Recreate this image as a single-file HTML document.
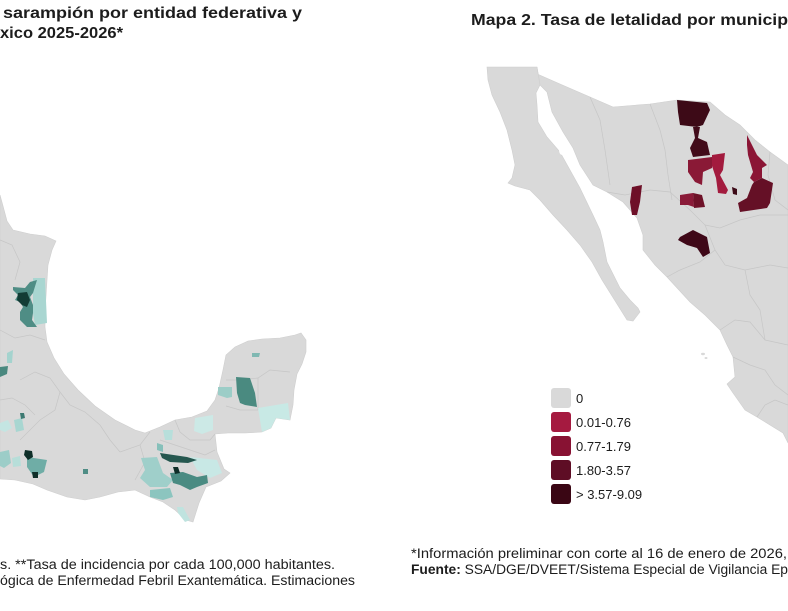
<!DOCTYPE html>
<html><head><meta charset="utf-8"><style>
html,body{margin:0;padding:0;background:#fff;}
svg{display:block;}
text{font-family:"Liberation Sans",Arial,sans-serif;fill:#1c1c1c;}
</style></head><body>
<svg width="788" height="611" viewBox="0 0 788 611" xmlns="http://www.w3.org/2000/svg">
<rect width="788" height="611" fill="#fff"/>

<!-- LEFT TITLE -->
<text x="3" y="18" font-size="16" font-weight="bold" textLength="299" lengthAdjust="spacingAndGlyphs">sarampión por entidad federativa y</text>
<text x="0" y="38" font-size="16" font-weight="bold" textLength="123" lengthAdjust="spacingAndGlyphs">xico 2025-2026*</text>

<!-- LEFT MAP LAND -->
<polygon fill="#d9d9d9" stroke="#cfcfcf" stroke-width="0.6" points="0,195 3,206 7,221 13,230 30,234 45,236 56,241 52,250 48,265 47,280 46,296 45,312 45,327 47,342 54,358 64,374 78,390 95,406 115,420 135,430 145,433 160,427 175,420 192,417 207,411 215,400 219,388 223,370 226,355 235,347 248,341 262,339 280,338 295,335 301,333 306,340 306,352 302,364 297,374 294,390 293,405 290,420 276,418 271,428 262,432 245,433 228,433 215,434 217,452 224,469 230,473 221,481 206,487 199,503 193,522 186,520 175,510 163,502 150,497 135,490 118,492 100,497 85,500 67,497 47,490 33,484 15,480 0,479"/>
<!-- internal borders left -->
<g fill="none" stroke="#c6c6c6" stroke-width="0.7">
<polyline points="0,240 12,245 20,262 15,280"/>
<polyline points="0,330 15,338 30,335 45,340"/>
<polyline points="20,380 35,372 50,378 60,392 70,405 85,412 100,425 110,440 120,452"/>
<polyline points="60,392 55,410 40,420 30,430 20,440"/>
<polyline points="0,400 12,398 25,405 35,415"/>
<polyline points="120,452 140,445 150,432"/>
<polyline points="140,445 145,462 135,480"/>
<polyline points="175,420 180,432 190,440 210,440 215,434"/>
<polyline points="226,380 240,380 258,378 270,370 290,372"/>
<polyline points="258,378 258,410"/>
<polyline points="226,406 240,410 258,410"/>
<polyline points="160,440 175,445 190,450 205,455 215,450"/>
</g>
<!-- teal regions -->
<g stroke="none">
<polygon fill="#a9d6d1" points="33,278 45,278 47,323 35,325 33,313"/>
<polygon fill="#4f8d85" points="13,287 25,288 30,282 37,280 33,293 30,297 33,305 33,313 32,320 37,327 27,327 20,320 20,312 23,307 20,302 15,300 18,295 13,290"/>
<polygon fill="#133c35" points="18,293 27,292 30,300 27,307 22,305 17,300"/>
<polygon fill="#a4d3ce" points="7,353 13,350 12,363 7,363"/>
<polygon fill="#4a887f" points="0,367 8,366 7,374 0,377"/>
<polygon fill="#c4e5e2" points="0,423 8,420 12,428 5,432 0,430"/>
<polygon fill="#a8d6d1" points="14,420 22,418 24,430 16,432"/>
<polygon fill="#3d7a72" points="20,413 24,413 25,418 21,419"/>
<polygon fill="#9ccdc8" points="0,452 9,450 11,463 4,468 0,466"/>
<polygon fill="#b7ded9" points="12,458 20,456 21,466 13,467"/>
<polygon fill="#6fada6" points="27,457 47,460 44,472 34,477 27,467"/>
<polygon fill="#0f2f29" points="25,450 32,451 33,457 28,460 24,455"/>
<polygon fill="#0f2f29" points="32,472 38,472 38,478 33,478"/>
<polygon fill="#4f8d85" points="83,469 88,469 88,474 83,474"/>
<!-- Tabasco / Chiapas cluster -->
<polygon fill="#cce9e6" points="195,418 213,415 213,430 202,434 194,431"/>
<polygon fill="#b7dfdb" points="163,430 173,430 172,440 165,440"/>
<polygon fill="#86c0ba" points="157,443 163,445 163,452 157,450"/>
<polygon fill="#9fcfca" points="141,458 157,457 163,473 173,480 167,487 150,487 140,478 145,470"/>
<polygon fill="#c8e8e5" points="190,457 217,460 222,473 210,478 197,470"/>
<polygon fill="#4a8b82" points="170,473 183,472 197,477 207,475 208,483 197,487 190,490 180,485 173,483"/>
<polygon fill="#25574f" points="160,453 187,457 197,460 188,463 170,462 162,458"/>
<polygon fill="#0e2e28" points="173,467 178,467 180,473 175,474"/>
<polygon fill="#8cc5bf" points="150,490 170,488 173,497 163,500 150,497"/>
<polygon fill="#bfe3df" points="177,507 183,507 190,520 185,522 178,513"/>
<!-- Campeche / Yucatan / Q.Roo -->
<polygon fill="#9ccdc7" points="218,387 232,387 232,397 227,398 218,395"/>
<polygon fill="#4a8a80" points="236,377 250,378 255,393 257,407 245,405 240,403 237,393"/>
<polygon fill="#c8e9e5" points="258,408 288,403 290,420 276,418 271,428 262,432"/>
<polygon fill="#7fb8b2" points="252,353 260,353 259,357 252,357"/>
</g>

<!-- LEFT FOOTNOTES -->
<text x="0" y="569" font-size="13.5" textLength="335" lengthAdjust="spacingAndGlyphs">s. **Tasa de incidencia por cada 100,000 habitantes.</text>
<text x="0" y="585" font-size="13.5" textLength="355" lengthAdjust="spacingAndGlyphs">ógica de Enfermedad Febril Exantemática. Estimaciones</text>

<!-- RIGHT TITLE -->
<text x="471" y="25" font-size="16" font-weight="bold" textLength="317" lengthAdjust="spacingAndGlyphs">Mapa 2. Tasa de letalidad por municip</text>

<!-- RIGHT MAP: mainland -->
<polygon fill="#d9d9d9" stroke="#cfcfcf" stroke-width="0.6" points="537,67 535,73 560,84 590,97 613,107 650,104 677,100 710,102 725,115 740,125 755,140 770,152 788,165 788,443 783,433 770,425 757,417 745,410 733,393 727,384 735,377 733,357 727,345 720,330 705,315 690,302 667,277 655,265 643,250 643,235 637,218 623,202 607,192 593,185 580,165 573,148 563,132 552,112 547,92 540,85"/>
<!-- Baja -->
<polygon fill="#d9d9d9" stroke="#cfcfcf" stroke-width="0.6" points="487,67 537,67 540,85 536,93 537,105 538,122 547,137 560,152 570,170 580,188 593,215 600,230 603,242 607,262 615,278 620,288 630,300 638,308 640,312 633,321 627,320 622,312 612,296 602,280 592,262 580,245 567,230 553,215 540,200 530,190 515,186 508,183 512,178 515,165 512,150 507,130 500,112 492,95 488,80"/>
<!-- islands -->
<ellipse cx="703" cy="354" rx="2" ry="1.2" fill="#d9d9d9"/>
<ellipse cx="706" cy="358" rx="1.5" ry="1" fill="#d9d9d9"/>
<ellipse cx="562" cy="150" rx="3" ry="5" fill="#ffffff"/>
<!-- internal borders right -->
<g fill="none" stroke="#c6c6c6" stroke-width="0.7">
<polyline points="590,97 600,120 605,150 610,185"/>
<polyline points="607,192 625,195 650,190 670,192 690,210 705,225"/>
<polyline points="650,104 660,130 665,150 668,175 672,200"/>
<polyline points="705,225 720,228 740,220 760,215 788,215"/>
<polyline points="705,225 715,250 725,265 745,270 770,265 788,268"/>
<polyline points="667,277 680,270 700,262 715,250"/>
<polyline points="720,330 735,320 750,322 765,340 788,345"/>
<polyline points="745,270 750,295 760,310 765,340"/>
<polyline points="733,357 750,365 765,370 775,385 788,395"/>
<polyline points="757,417 765,405 775,400 788,405"/>
<polyline points="770,152 768,175 775,200 788,210"/>
</g>
<!-- red regions -->
<g stroke="none">
<polygon fill="#3d0a17" points="677,100 707,103 710,110 703,125 697,127 680,125 678,112"/>
<polygon fill="#420b1a" points="693,127 700,127 698,138 707,142 710,155 693,157 690,148 695,138"/>
<polygon fill="#8a1936" points="688,160 712,157 712,168 703,172 702,185 695,182 688,172"/>
<polygon fill="#a31b3e" points="712,155 725,153 723,170 720,175 728,190 726,194 718,193 716,178 712,166"/>
<polygon fill="#3d0a17" points="732,187 737,189 737,195 733,194"/>
<polygon fill="#8b1535" points="747,135 752,145 757,155 767,165 762,168 762,178 754,182 750,178 753,172 748,155 747,145"/>
<polygon fill="#651026" points="754,182 762,178 773,183 770,203 767,208 740,212 738,203 747,198 752,185"/>
<polygon fill="#6e1028" points="632,187 642,185 640,202 637,215 632,215 630,202"/>
<polygon fill="#8a1a38" points="680,195 693,193 694,207 688,205 680,205"/>
<polygon fill="#6e1128" points="693,193 702,195 705,207 694,208"/>
<polygon fill="#3f0818" points="680,237 693,230 707,237 710,253 703,257 697,248 687,245 678,240"/>
</g>

<!-- LEGEND -->
<g>
<rect x="551" y="388" width="20" height="20" rx="3" fill="#d9d9d9"/>
<rect x="551" y="412" width="20" height="20" rx="3" fill="#a51a40"/>
<rect x="551" y="436" width="20" height="20" rx="3" fill="#881233"/>
<rect x="551" y="460" width="20" height="20" rx="3" fill="#5e0d25"/>
<rect x="551" y="484" width="20" height="20" rx="3" fill="#3a0614"/>
<text x="576" y="403" font-size="13">0</text>
<text x="576" y="427" font-size="13">0.01-0.76</text>
<text x="576" y="451" font-size="13">0.77-1.79</text>
<text x="576" y="475" font-size="13">1.80-3.57</text>
<text x="576" y="499" font-size="13">&gt; 3.57-9.09</text>
</g>

<!-- RIGHT FOOTNOTES -->
<text x="411" y="558" font-size="13.5" textLength="376" lengthAdjust="spacingAndGlyphs">*Información preliminar con corte al 16 de enero de 2026,</text>
<text x="411" y="574" font-size="13.5" textLength="377" lengthAdjust="spacingAndGlyphs"><tspan font-weight="bold">Fuente:</tspan> SSA/DGE/DVEET/Sistema Especial de Vigilancia Ep</text>
</svg>
</body></html>
